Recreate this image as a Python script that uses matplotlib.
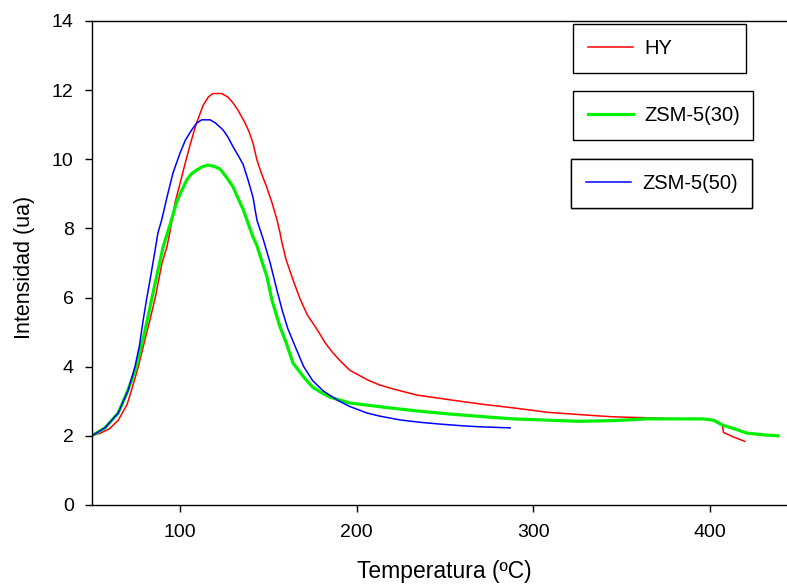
import matplotlib
matplotlib.use("Agg")
import matplotlib.pyplot as plt

plt.rcParams['font.family'] = ['Liberation Sans', 'DejaVu Sans']

# HY
hy_x = [50, 55, 60, 65, 70, 72.6, 76.4, 80, 83, 86, 89.8, 92.5, 94.3, 97.2, 100, 103,
        105.6, 109, 113, 116, 118.6, 123.6, 127, 130, 133, 136.8, 139, 141.3, 143.5,
        146, 149, 152, 154.9, 156.6, 157.6, 160, 164, 168, 172, 177.5, 182, 186,
        191, 196, 206, 213, 221, 234, 253, 270, 290, 308, 330, 345, 365, 383, 398,
        404, 407, 407.5, 413, 419.6]
hy_y = [2.0, 2.08, 2.2, 2.45, 2.9, 3.33, 4.0, 4.75, 5.36, 6.0, 7.0, 7.45, 7.9, 8.75, 9.3, 9.9,
        10.4, 11.0, 11.55, 11.8, 11.9, 11.9, 11.8, 11.63, 11.4, 11.05, 10.8, 10.47, 9.98,
        9.6, 9.2, 8.75, 8.24, 7.87, 7.6, 7.1, 6.5, 5.95, 5.5, 5.08, 4.7, 4.43,
        4.15, 3.9, 3.62, 3.47, 3.35, 3.18, 3.04, 2.92, 2.8, 2.68, 2.6, 2.55, 2.52, 2.49, 2.48,
        2.42, 2.3, 2.1, 1.97, 1.84]

# ZSM-5(30)
z30_x = [50, 57.5, 65, 70, 75, 80, 85, 90.4, 94.3, 98, 100.5, 103.8, 106.5, 109.5,
         112.5, 115.8, 119, 122.6, 126, 130, 133, 135.7, 138.5, 141.3, 143.4, 146,
         149.2, 152, 154.5, 156.6, 160, 164, 170, 175, 180, 184.8, 196, 215, 234,
         252.8, 270, 288.5, 326, 345, 364, 396, 402, 407, 414, 420.7, 430, 438.4]
z30_y = [2.0, 2.23, 2.66, 3.25, 3.95, 5.0, 6.2, 7.46, 8.1, 8.74, 9.05, 9.4, 9.58, 9.69,
         9.78, 9.83, 9.8, 9.72, 9.5, 9.2, 8.85, 8.55, 8.15, 7.75, 7.52, 7.1,
         6.6, 5.93, 5.5, 5.15, 4.7, 4.1, 3.7, 3.41, 3.25, 3.12, 2.95, 2.83, 2.72,
         2.63, 2.56, 2.49, 2.42, 2.44, 2.49, 2.49, 2.45, 2.31, 2.2, 2.08, 2.03, 2.0]

# ZSM-5(50)
z50_x = [50, 57.5, 65, 70.7, 74.5, 77, 79, 81, 83, 85, 87.5, 89.6, 92.6, 96, 100, 103,
         106.6, 109.5, 112.3, 117, 120, 124.3, 127, 130, 133, 135.7, 138.5, 141.3,
         143.5, 147, 151, 154.9, 158, 161, 166, 170, 175, 181, 188.8, 196, 205.8,
         213, 224.5, 236, 247, 260, 270, 286.8]
z50_y = [2.0, 2.23, 2.66, 3.33, 4.0, 4.6, 5.3, 5.93, 6.5, 7.1, 7.87, 8.24, 8.9, 9.6, 10.18, 10.55,
         10.85, 11.05, 11.14, 11.14, 11.05, 10.85, 10.65, 10.36, 10.1, 9.85, 9.4, 8.9,
         8.24, 7.7, 7.0, 6.2, 5.6, 5.1, 4.48, 4.0, 3.6, 3.3, 3.04, 2.85, 2.66,
         2.57, 2.46, 2.39, 2.34, 2.29, 2.26, 2.23]

fig = plt.figure(figsize=(7.87, 5.85), dpi=100)
ax = fig.add_axes([0.1165, 0.1368, 0.8835, 0.8274])

l1, = ax.plot(hy_x, hy_y, color='#ff0000', lw=1.1, label='HY')
l2, = ax.plot(z30_x, z30_y, color='#00f000', lw=2.3, label='ZSM-5(30)')
l3, = ax.plot(z50_x, z50_y, color='#0000ff', lw=1.1, label='ZSM-5(50)')

ax.set_xlim(50, 443.5)
ax.set_ylim(0, 14)
ax.set_xticks([100, 200, 300, 400])
ax.set_yticks(range(0, 15, 2))
ax.tick_params(axis='both', direction='out', length=5, width=1, labelsize=14)
ax.tick_params(axis='x', pad=9)
ax.tick_params(axis='y', pad=8)
ax.spines['right'].set_visible(False)
for s in ['left', 'bottom', 'top']:
    ax.spines[s].set_linewidth(1.0)

ax.set_xlabel('Temperatura (ºC)', fontsize=16.5, va='center')
ax.xaxis.set_label_coords(0.507, -0.138)
ax.set_ylabel('Intensidad (ua)', fontsize=15.5, va='center')
ax.yaxis.set_label_coords(-0.097, 0.49)

# three separate legend boxes, as in the original
boxes = [(0.692, 0.994, 0.249), (0.692, 0.855, 0.259), (0.689, 0.715, 0.26)]
for h, (x0, top, w) in zip([l1, l2, l3], boxes):
    leg = ax.legend(handles=[h], loc='upper left', bbox_to_anchor=(x0, top, w, 0),
                    mode='expand', borderaxespad=0, borderpad=0.75, fontsize=14.5,
                    handlelength=2.25, handletextpad=0.55, fancybox=False,
                    edgecolor='black', framealpha=1)
    leg.get_frame().set_linewidth(1.0)
    ax.add_artist(leg)

fig.savefig('out.png', dpi=100)
